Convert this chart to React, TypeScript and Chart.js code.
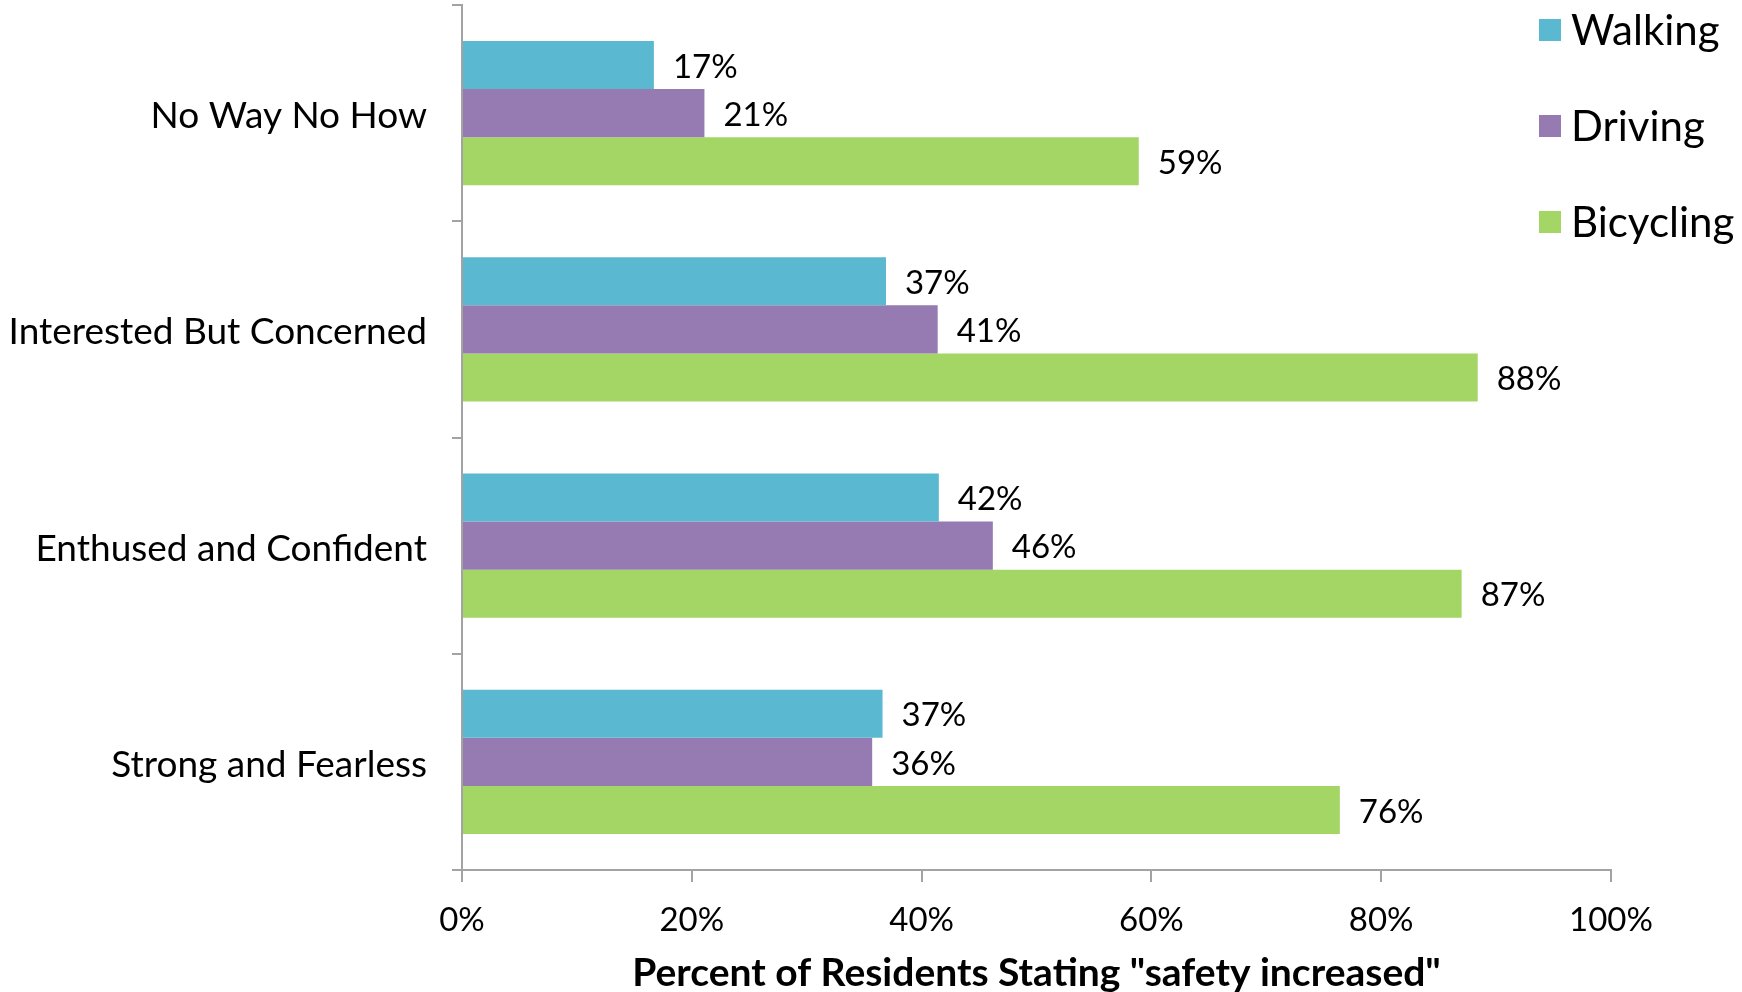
import React, { useEffect, useRef } from "react";
import { Chart, registerables } from "chart.js";

Chart.register(...registerables);

const categories = [
  "No Way No How",
  "Interested But Concerned",
  "Enthused and Confident",
  "Strong and Fearless",
];
const walking = [16.7, 36.9, 41.5, 36.6];
const driving = [21.1, 41.4, 46.2, 35.7];
const bicycling = [58.9, 88.4, 87.0, 76.4];
const seriesNames = ["Walking", "Driving", "Bicycling"];
const seriesColors = ["#5BB8D1", "#957BB1", "#A3D664"];
const xTicks = [0, 20, 40, 60, 80, 100];
const axisTitle = 'Percent of Residents Stating "safety increased"';

const FONT = "Lato, 'Open Sans', sans-serif";
const AXIS_COLOR = "#A3A3A3";

const valueLabels = {
  id: "valueLabels",
  afterDatasetsDraw(chart: any) {
    const ctx = chart.ctx;
    ctx.save();
    ctx.font = `33px ${FONT}`;
    ctx.fillStyle = "#000";
    ctx.textAlign = "left";
    ctx.textBaseline = "middle";
    chart.data.datasets.forEach((ds: any, di: number) => {
      const meta = chart.getDatasetMeta(di);
      meta.data.forEach((bar: any, i: number) => {
        const v = ds.data[i];
        ctx.fillText(`${Math.round(v)}%`, bar.x + 19, bar.y + 2);
      });
    });
    ctx.restore();
  },
};

const sideLegend = {
  id: "sideLegend",
  afterDraw(chart: any) {
    const ctx = chart.ctx;
    ctx.save();
    const x0 = chart.width - 203;
    const ys = [30, 126, 222];
    ctx.font = `42px ${FONT}`;
    ctx.textAlign = "left";
    ctx.textBaseline = "middle";
    chart.data.datasets.forEach((ds: any, i: number) => {
      const y = ys[i];
      ctx.fillStyle = ds.backgroundColor;
      ctx.fillRect(x0, y - 11, 22, 22);
      ctx.fillStyle = "#000";
      ctx.fillText(ds.label, x0 + 32, y + 1);
    });
    ctx.restore();
  },
};

export default function App() {
  const ref = useRef<HTMLCanvasElement>(null);

  useEffect(() => {
    if (!ref.current) return;
    const seriesData = [walking, driving, bicycling];
    const chart = new Chart(ref.current, {
      type: "bar",
      data: {
        labels: categories,
        datasets: seriesNames.map((name, i) => ({
          label: name,
          data: seriesData[i],
          backgroundColor: seriesColors[i],
          borderWidth: 0,
          categoryPercentage: 0.667,
          barPercentage: 1,
        })),
      },
      options: {
        indexAxis: "y",
        responsive: false,
        animation: false,
        layout: { padding: { top: 5, right: 131, bottom: 0, left: 0 } },
        plugins: {
          legend: { display: false },
          tooltip: { enabled: false },
        },
        scales: {
          x: {
            min: 0,
            max: 100,
            afterBuildTicks: (s: any) => {
              s.ticks = xTicks.map((v) => ({ value: v }));
            },
            ticks: {
              callback: (v: any) => `${v}%`,
              color: "#000",
              font: { family: FONT, size: 33 },
              padding: 19,
              maxRotation: 0,
            },
            grid: {
              drawOnChartArea: false,
              drawTicks: true,
              tickLength: 12,
              color: AXIS_COLOR,
              lineWidth: 2,
            },
            border: { display: true, color: AXIS_COLOR, width: 2 },
            title: {
              display: true,
              text: axisTitle,
              color: "#000",
              font: { family: FONT, size: 39, weight: "bold" },
              padding: { top: 0, bottom: -5 },
            },
            afterFit: (s: any) => {
              s.height = 122;
              s.paddingLeft = 0;
              s.paddingRight = 0;
            },
          },
          y: {
            offset: true,
            ticks: {
              color: "#000",
              font: { family: FONT, size: 37 },
              padding: 25,
              labelOffset: 3,
            },
            grid: {
              offset: true,
              drawOnChartArea: false,
              drawTicks: true,
              tickLength: 10,
              color: AXIS_COLOR,
              lineWidth: 2,
            },
            border: { display: true, color: AXIS_COLOR, width: 2 },
            afterFit: (s: any) => {
              s.width = 462;
              s.paddingTop = 0;
              s.paddingBottom = 0;
            },
          },
        },
      } as any,
      plugins: [valueLabels, sideLegend],
    });
    return () => chart.destroy();
  }, []);

  return (
    <div style={{ position: "absolute", left: 0, top: 0, width: 1742, height: 992, background: "#fff" }}>
      <canvas ref={ref} width={1742} height={992} style={{ width: 1742, height: 992 }} />
    </div>
  );
}
